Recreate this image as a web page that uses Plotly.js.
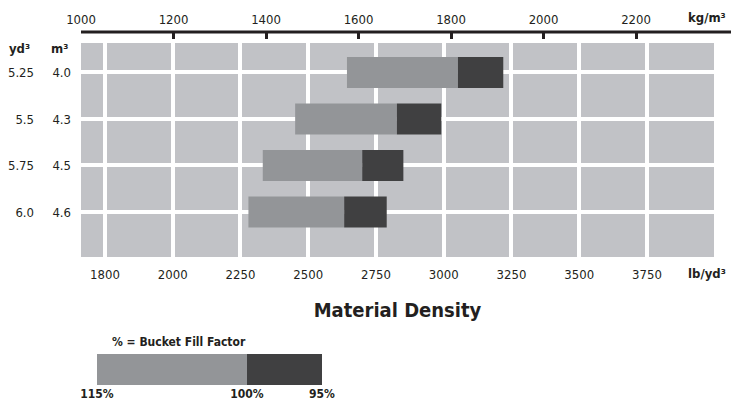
<!DOCTYPE html>
<html>
<head>
<meta charset="utf-8">
<script src="https://cdn.plot.ly/plotly-3.0.1.min.js"></script>
<style>html,body{margin:0;padding:0;background:#fff;}#chart{width:731px;height:402px;}</style>
</head>
<body>
<div id="chart"></div>
<script>
// Bucket size categories
const m3Labels = ['4.0', '4.3', '4.5', '4.6'];
const yd3Labels = ['5.25', '5.5', '5.75', '6.0'];
// Material density (kg/m³)
const density115 = [1575, 1463, 1393, 1362];  // left end of bar (115% fill)
const density100 = [1815, 1683, 1608, 1569];  // split (100% fill)
const density95  = [1913, 1779, 1697, 1661];  // right end (95% fill)
// Axis tick labels
const kgTicks = [1000, 1200, 1400, 1600, 1800, 2000, 2200];
const lbTickLabels = ['1800', '2000', '2250', '2500', '2750', '3000', '3250', '3500', '3750'];
// Legend key
const keyLabels = ['115%', '100%', '95%'];
const keyStops = [0, 2, 3];

const FONT = 'Liberation Sans Narrow, DejaVu Sans Condensed, Arial Narrow, sans-serif';
const INK = '#231f20';
const LIGHT = '#939598';
const DARK = '#404041';
const BG = '#c1c2c6';

const rows = m3Labels.map((_, i) => i);

const traces = [
  // empty traces so the base subplots (bottom lb/yd³ scale, yd³ labels) exist
  {type: 'scatter', mode: 'markers', x: [], y: [], xaxis: 'x', yaxis: 'y', hoverinfo: 'skip', showlegend: false},
  {type: 'scatter', mode: 'markers', x: [], y: [], xaxis: 'x', yaxis: 'y2', hoverinfo: 'skip', showlegend: false},
  {
    type: 'bar', orientation: 'h', xaxis: 'x2', yaxis: 'y',
    y: rows, base: density115, x: density100.map((v, i) => v - density115[i]),
    width: 0.667, marker: {color: LIGHT, line: {width: 0}}, hoverinfo: 'skip', showlegend: false
  },
  {
    type: 'bar', orientation: 'h', xaxis: 'x2', yaxis: 'y',
    y: rows, base: density100, x: density95.map((v, i) => v - density100[i]),
    width: 0.667, marker: {color: DARK, line: {width: 0}}, hoverinfo: 'skip', showlegend: false
  },
  {
    type: 'bar', orientation: 'h', xaxis: 'x3', yaxis: 'y3',
    y: [0], base: [keyStops[0]], x: [keyStops[1] - keyStops[0]],
    width: 1, marker: {color: LIGHT, line: {width: 0}}, hoverinfo: 'skip', showlegend: false
  },
  {
    type: 'bar', orientation: 'h', xaxis: 'x3', yaxis: 'y3',
    y: [0], base: [keyStops[1]], x: [keyStops[2] - keyStops[1]],
    width: 1, marker: {color: DARK, line: {width: 0}}, hoverinfo: 'skip', showlegend: false
  }
];

const layout = {
  width: 731, height: 402,
  margin: {l: 40, r: 17, t: 32, b: 17, pad: 0},
  paper_bgcolor: '#ffffff',
  plot_bgcolor: BG,
  barmode: 'overlay',
  showlegend: false,
  font: {family: FONT, size: 13, color: INK},
  title: {
    text: 'Material Density',
    font: {family: FONT, size: 20, color: INK, weight: 'bold'},
    xref: 'container', yref: 'container', x: 397.5 / 731, y: 1 - 310 / 402,
    xanchor: 'center', yanchor: 'middle'
  },
  // bottom lb/yd³ scale (evenly spaced labels as in the picture)
  xaxis: {
    domain: [41 / 674, 1], anchor: 'y',
    range: [-0.354, 8.989],
    tickmode: 'array', tickvals: lbTickLabels.map((_, i) => i), ticktext: lbTickLabels,
    showgrid: true, gridcolor: '#ffffff', gridwidth: 4,
    zeroline: false, showline: false, ticks: '',
    ticklabelstandoff: 8,
    tickfont: {family: FONT, size: 13, color: INK},
    fixedrange: true
  },
  // top kg/m³ scale (bars)
  xaxis2: {
    overlaying: 'x', side: 'top', anchor: 'free', position: 1,
    range: [1000, 2368.6],
    tickmode: 'array', tickvals: kgTicks,
    showgrid: false, zeroline: false,
    showline: false,
    ticks: 'inside', ticklen: 6, tickwidth: 3, tickcolor: INK,
    ticklabelstandoff: 5,
    tickfont: {family: FONT, size: 13, color: INK},
    fixedrange: true
  },
  yaxis: {
    domain: [128 / 353, 342 / 353], anchor: 'x',
    range: [3.968, -0.634],
    tickmode: 'array', tickvals: rows, ticktext: m3Labels,
    showgrid: true, gridcolor: '#ffffff', gridwidth: 4,
    zeroline: false, showline: false, ticks: '',
    ticklabelstandoff: 9,
    tickfont: {family: FONT, size: 13, color: INK},
    fixedrange: true
  },
  yaxis2: {
    overlaying: 'y', anchor: 'free', position: 0, side: 'left',
    range: [3.968, -0.634],
    tickmode: 'array', tickvals: rows, ticktext: yd3Labels,
    showgrid: false, zeroline: false, showline: false, ticks: '',
    ticklabelstandoff: 6,
    tickfont: {family: FONT, size: 13, color: INK},
    fixedrange: true
  },
  xaxis3: {
    domain: [57 / 674, 282 / 674], anchor: 'y3',
    range: [0, 3],
    tickmode: 'array', tickvals: keyStops, ticktext: keyLabels,
    showgrid: false, zeroline: false, showline: false, ticks: '',
    ticklabelstandoff: 0,
    tickfont: {family: FONT, size: 12, color: INK, weight: 'bold'},
    fixedrange: true
  },
  yaxis3: {
    domain: [0, 31 / 353], anchor: 'x3',
    range: [-0.5, 0.5], visible: false, fixedrange: true
  },
  shapes: [
    // top axis line, running past the plot to the unit label
    {type: 'line', xref: 'paper', yref: 'paper', x0: 41 / 674, x1: 1 + 17 / 674, y0: 1, y1: 1,
     line: {color: INK, width: 3}}
  ],
  annotations: [
    {text: 'kg/m³', xref: 'paper', yref: 'paper', x: 1 + 14 / 674, y: 1 + 14 / 353,
     xanchor: 'right', yanchor: 'middle', showarrow: false,
     font: {family: FONT, size: 13, color: INK, weight: 'bold'}},
    {text: 'lb/yd³', xref: 'paper', yref: 'paper', x: 1 + 14 / 674, y: (385 - 273) / 353,
     xanchor: 'right', yanchor: 'middle', showarrow: false,
     font: {family: FONT, size: 13, color: INK, weight: 'bold'}},
    {text: 'yd³', xref: 'paper', yref: 'paper', x: -8 / 674, y: (385 - 48) / 353,
     xanchor: 'right', yanchor: 'middle', showarrow: false,
     font: {family: FONT, size: 13, color: INK, weight: 'bold'}},
    {text: 'm³', xref: 'paper', yref: 'paper', x: 30 / 674, y: (385 - 48) / 353,
     xanchor: 'right', yanchor: 'middle', showarrow: false,
     font: {family: FONT, size: 13, color: INK, weight: 'bold'}},
    {text: '% = Bucket Fill Factor', xref: 'paper', yref: 'paper', x: 70 / 674, y: (385 - 342) / 353,
     xanchor: 'left', yanchor: 'middle', showarrow: false,
     font: {family: FONT, size: 12, color: INK, weight: 'bold'}}
  ]
};

Plotly.newPlot('chart', traces, layout, {displayModeBar: false, staticPlot: true});
</script>
</body>
</html>
